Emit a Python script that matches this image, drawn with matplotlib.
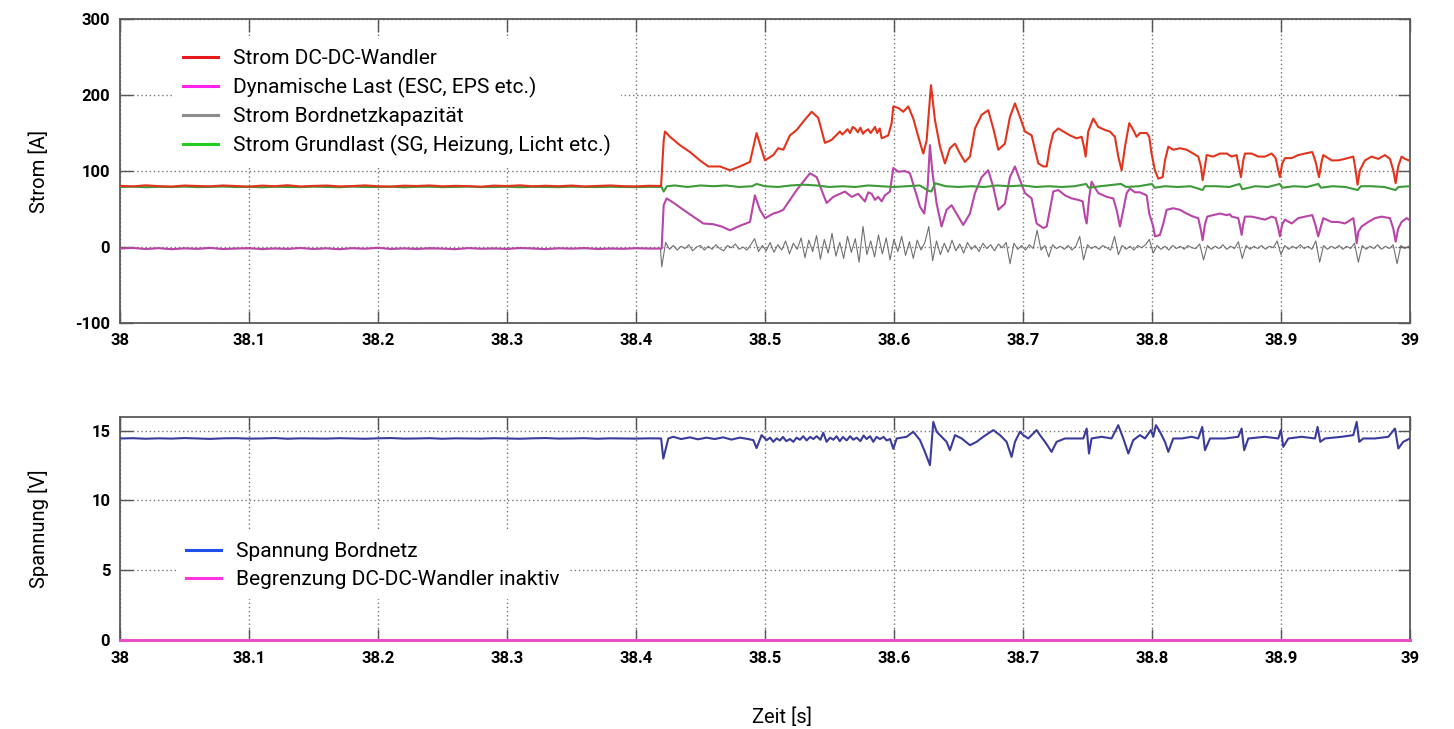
import numpy as np
import matplotlib
matplotlib.use("Agg")
import matplotlib.pyplot as plt
from matplotlib.lines import Line2D

plt.rcParams['font.family'] = ['Roboto', 'DejaVu Sans']
plt.rcParams['axes.unicode_minus'] = False

# ---------------- data ----------------
# flat part 38.00 ... 38.41 (10 ms steps) plus one sample just before the load step
flat_t = [38.00, 38.01, 38.02, 38.03, 38.04, 38.05, 38.06, 38.07, 38.08, 38.09,
          38.10, 38.11, 38.12, 38.13, 38.14, 38.15, 38.16, 38.17, 38.18, 38.19,
          38.20, 38.21, 38.22, 38.23, 38.24, 38.25, 38.26, 38.27, 38.28, 38.29,
          38.30, 38.31, 38.32, 38.33, 38.34, 38.35, 38.36, 38.37, 38.38, 38.39,
          38.40, 38.41, 38.419]
red_flat = [80.5, 79.8, 81.2, 80.1, 79.6, 80.9, 80.3, 79.9, 81.0, 80.2,
            79.5, 80.8, 80.0, 81.3, 79.7, 80.4, 80.9, 79.8, 80.2, 81.1,
            80.0, 79.6, 80.7, 80.3, 81.0, 79.9, 80.5, 80.1, 79.4, 80.8,
            80.2, 81.2, 79.9, 80.6, 80.0, 80.9, 79.7, 80.4, 81.0, 80.1,
            79.8, 80.6, 80.3]
mag_flat = [-2.0, -1.2, -2.6, -1.5, -2.9, -1.8, -2.3, -1.1, -2.7, -2.0,
            -1.4, -2.8, -1.9, -2.4, -1.3, -2.6, -1.7, -2.9, -1.6, -2.2,
            -1.0, -2.5, -1.8, -2.7, -1.5, -2.1, -2.9, -1.4, -2.3, -1.8,
            -2.6, -1.2, -2.0, -2.8, -1.6, -2.2, -1.3, -2.7, -1.9, -2.4,
            -1.5, -2.1, -2.0]
green_flat = [79.0, 79.4, 78.7, 79.2, 78.9, 79.5, 78.8, 79.1, 79.6, 78.9,
              79.2, 78.6, 79.3, 79.0, 78.8, 79.4, 79.1, 78.7, 79.5, 79.0,
              78.9, 79.3, 78.6, 79.2, 79.4, 78.8, 79.1, 79.5, 78.9, 79.0,
              79.3, 78.7, 79.2, 79.0, 78.8, 79.4, 79.1, 78.9, 79.3, 79.0,
              78.8, 79.2, 79.1]
gray_flat = [-2.0, -1.5, -2.4, -1.8, -2.2, -1.6, -2.5, -1.9, -2.1, -1.7,
             -2.3, -1.8, -2.0, -2.4, -1.6, -2.2, -1.9, -2.5, -1.7, -2.1,
             -1.8, -2.3, -2.0, -1.6, -2.4, -1.9, -2.2, -1.7, -2.0, -2.3,
             -1.8, -2.1, -1.6, -2.4, -2.0, -1.9, -2.2, -1.7, -2.3, -1.9,
             -2.1, -1.8, -2.0]
volt_flat = [14.44, 14.46, 14.42, 14.45, 14.43, 14.47, 14.44, 14.41, 14.45, 14.46,
             14.43, 14.44, 14.47, 14.42, 14.45, 14.44, 14.43, 14.46, 14.44, 14.42,
             14.45, 14.47, 14.43, 14.44, 14.46, 14.42, 14.45, 14.44, 14.43, 14.46,
             14.44, 14.42, 14.45, 14.47, 14.43, 14.44, 14.46, 14.42, 14.45, 14.44,
             14.43, 14.45, 14.44]

# DC-DC converter current after load step
red_t = [38.4195, 38.4215, 38.4225, 38.4264, 38.4341, 38.4419, 38.4496, 38.4561, 38.4651, 38.4729,
         38.4806, 38.4884, 38.4935, 38.4974, 38.5000, 38.5065, 38.5103, 38.5142, 38.5194, 38.5246,
         38.5297, 38.5362, 38.5413, 38.5465, 38.5517, 38.5581, 38.5600, 38.5640, 38.5660, 38.5680,
         38.5698, 38.5720, 38.5740, 38.5760, 38.5775, 38.5800, 38.5820, 38.5853, 38.5870, 38.5890,
         38.5905, 38.5956, 38.5982, 38.5995, 38.6034, 38.6072, 38.6111, 38.6150, 38.6189, 38.6227,
         38.6253, 38.6287, 38.6318, 38.6357, 38.6395, 38.6434, 38.6473, 38.6512, 38.6550, 38.6589,
         38.6628, 38.6680, 38.6731, 38.6770, 38.6809, 38.6860, 38.6899, 38.6938, 38.6977, 38.7016,
         38.7067, 38.7119, 38.7158, 38.7184, 38.7209, 38.7235, 38.7274, 38.7313, 38.7364, 38.7416,
         38.7455, 38.7473, 38.7486, 38.7506, 38.7545, 38.7584, 38.7636, 38.7674, 38.7713, 38.7739,
         38.7765, 38.7791, 38.7824, 38.7855, 38.7881, 38.7907, 38.7959, 38.7979, 38.7997, 38.8023,
         38.8049, 38.8083, 38.8101, 38.8127, 38.8165, 38.8217, 38.8269, 38.8320, 38.8359, 38.8380,
         38.8393, 38.8411, 38.8424, 38.8475, 38.8527, 38.8579, 38.8618, 38.8656, 38.8674, 38.8690,
         38.8708, 38.8721, 38.8773, 38.8824, 38.8876, 38.8928, 38.8959, 38.8979, 38.8992, 38.9010,
         38.9031, 38.9083, 38.9134, 38.9186, 38.9243, 38.9269, 38.9295, 38.9315, 38.9328, 38.9393,
         38.9444, 38.9496, 38.9561, 38.9579, 38.9594, 38.9612, 38.9651, 38.9703, 38.9754, 38.9806,
         38.9845, 38.9871, 38.9889, 38.9909, 38.9935, 38.9961, 38.9992]
red_v = [81, 140, 152, 145, 134, 125, 114, 106, 106, 101,
         106, 112, 150, 128, 114, 121, 130, 128, 147, 154,
         165, 178, 170, 137, 141, 152, 148, 155, 150, 158,
         156, 151, 157, 149, 152, 155, 150, 158, 150, 156,
         143, 147, 163, 185, 183, 178, 185, 169, 145, 123,
         140, 213, 167, 132, 110, 130, 136, 123, 112, 119,
         156, 174, 180, 156, 128, 136, 171, 189, 171, 152,
         147, 110, 106, 106, 132, 150, 156, 152, 147, 143,
         145, 132, 119, 152, 169, 158, 154, 152, 145, 119,
         101, 132, 163, 154, 145, 150, 150, 145, 123, 101,
         90, 92, 114, 132, 128, 130, 128, 123, 119, 106,
         88, 106, 121, 119, 123, 123, 119, 121, 106, 92,
         114, 123, 123, 119, 119, 123, 117, 101, 92, 110,
         117, 117, 121, 123, 125, 112, 92, 112, 121, 114,
         114, 116, 119, 101, 82, 101, 114, 119, 116, 121,
         116, 101, 84, 106, 119, 116, 114]

# dynamic load current
mag_t = [38.4199, 38.4215, 38.4238, 38.4302, 38.4367, 38.4444, 38.4522, 38.4599, 38.4664, 38.4729,
         38.4806, 38.4884, 38.4922, 38.4961, 38.5000, 38.5065, 38.5103, 38.5142, 38.5194, 38.5246,
         38.5297, 38.5349, 38.5401, 38.5439, 38.5478, 38.5530, 38.5581, 38.5620, 38.5672, 38.5723,
         38.5775, 38.5801, 38.5827, 38.5853, 38.5878, 38.5905, 38.5930, 38.5969, 38.5995, 38.6034,
         38.6085, 38.6124, 38.6163, 38.6202, 38.6235, 38.6261, 38.6279, 38.6297, 38.6331, 38.6369,
         38.6408, 38.6447, 38.6499, 38.6537, 38.6589, 38.6628, 38.6680, 38.6731, 38.6770, 38.6809,
         38.6860, 38.6899, 38.6938, 38.6977, 38.7016, 38.7067, 38.7106, 38.7158, 38.7184, 38.7209,
         38.7235, 38.7274, 38.7326, 38.7377, 38.7429, 38.7463, 38.7481, 38.7494, 38.7514, 38.7532,
         38.7558, 38.7584, 38.7649, 38.7700, 38.7726, 38.7752, 38.7778, 38.7804, 38.7829, 38.7868,
         38.7907, 38.7959, 38.7979, 38.8010, 38.8023, 38.8062, 38.8088, 38.8114, 38.8165, 38.8217,
         38.8269, 38.8320, 38.8359, 38.8380, 38.8393, 38.8411, 38.8429, 38.8475, 38.8527, 38.8579,
         38.8605, 38.8618, 38.8669, 38.8682, 38.8695, 38.8708, 38.8721, 38.8773, 38.8824, 38.8876,
         38.8928, 38.8959, 38.8979, 38.8992, 38.9010, 38.9031, 38.9083, 38.9134, 38.9186, 38.9243,
         38.9269, 38.9289, 38.9315, 38.9328, 38.9393, 38.9444, 38.9496, 38.9561, 38.9574, 38.9587,
         38.9600, 38.9625, 38.9677, 38.9729, 38.9780, 38.9845, 38.9871, 38.9889, 38.9909, 38.9935,
         38.9974, 38.9992]
mag_v = [-2, 55, 64, 57, 49, 40, 31, 30, 27, 22,
         28, 33, 68, 49, 38, 44, 46, 49, 62, 75,
         86, 97, 92, 75, 58, 66, 70, 73, 66, 70,
         60, 72, 70, 62, 66, 60, 68, 73, 104, 99,
         100, 97, 75, 53, 44, 79, 134, 100, 57, 27,
         49, 55, 40, 29, 44, 71, 92, 101, 79, 49,
         57, 92, 106, 88, 71, 64, 31, 25, 27, 49,
         73, 75, 68, 64, 62, 60, 40, 31, 66, 86,
         78, 71, 66, 64, 49, 27, 49, 71, 77, 72,
         72, 68, 44, 27, 14, 16, 31, 49, 51, 49,
         44, 40, 38, 22, 9, 30, 40, 42, 44, 42,
         43, 40, 38, 28, 16, 30, 40, 40, 38, 36,
         40, 38, 25, 14, 30, 36, 31, 38, 40, 42,
         28, 14, 30, 38, 33, 33, 31, 38, 24, 5,
         20, 27, 33, 38, 40, 38, 24, 7, 24, 33,
         38, 36]

# base load current
green_t = [38.4199, 38.4215, 38.4240, 38.4300, 38.4400, 38.4500, 38.4600, 38.4700, 38.4800, 38.4900,
           38.4935, 38.5000, 38.5100, 38.5200, 38.5300, 38.5400, 38.5500, 38.5600, 38.5700, 38.5800,
           38.5900, 38.6000, 38.6100, 38.6200, 38.6270, 38.6290, 38.6320, 38.6400, 38.6500, 38.6600,
           38.6700, 38.6800, 38.6900, 38.7000, 38.7100, 38.7200, 38.7300, 38.7400, 38.7490, 38.7510,
           38.7600, 38.7760, 38.7800, 38.7900, 38.8000, 38.8020, 38.8100, 38.8200, 38.8300, 38.8393,
           38.8410, 38.8500, 38.8600, 38.8680, 38.8700, 38.8800, 38.8900, 38.8990, 38.9010, 38.9100,
           38.9200, 38.9290, 38.9310, 38.9400, 38.9500, 38.9594, 38.9620, 38.9700, 38.9800, 38.9889,
           38.9910, 39.0000]
green_v = [79, 73, 80, 81, 79, 81, 80, 81, 79, 80,
           83, 80, 79, 81, 82, 81, 79, 80, 79, 81,
           80, 79, 80, 81, 74, 73, 84, 80, 79, 80,
           79, 81, 80, 81, 79, 80, 79, 80, 83, 78,
           80, 83, 79, 80, 83, 78, 80, 79, 80, 75,
           80, 80, 79, 83, 76, 80, 79, 83, 78, 80,
           79, 83, 78, 80, 79, 75, 80, 80, 79, 75,
           79, 80]

# capacitor current, 3 ms samples from 38.420 s
gray_t0 = 38.420
gray_dt = 0.003
gray_v = [-26, 6, -3, 2, -4, 1, -2, 3, -5, 0,
          2, -4, 1, -3, 3, -2, -5, 2, -1, 4,
          -3, 0, -4, 3, 11, -6, 2, -5, 6, -7,
          3, -4, 8, -9, 5, -3, 12, -14, 9, -6,
          15, -16, 10, -8, 18, -12, 6, -15, 14, -7,
          11, -20, 27, -10, 8, -13, 16, -9, 12, -17,
          10, -6, 14, -11, 7, -15, 9, -4, 6, 27,
          -18, 8, -10, 5, -7, 9, -5, 4, -8, 6,
          -3, 2, -6, 5, -2, 3, -5, 4, -1, 6,
          -22, 5, -3, 2, -4, 3, -2, 22, -4, 2,
          -13, 3, -2, 1, -3, 2, -4, 1, 14, -17,
          3, -2, 1, -3, 2, -1, -4, 14, -10, 2,
          -3, 1, -4, 2, -1, 3, 10, -8, 2, -3,
          1, -4, 2, -2, 1, -3, 2, -1, -2, 4,
          -17, 2, -3, 1, -2, 3, -3, 1, -2, 7,
          -15, 2, -3, 1, -2, 2, -3, 1, -1, 8,
          -10, 2, -3, 1, -2, 3, -2, 1, -3, 8,
          -20, 2, -3, 1, -2, 2, -3, 1, -2, 5,
          -20, 2, -3, 1, -2, 3, -3, 1, -2, 3,
          -22, 2, -2, 1]

# on-board voltage after load step
volt_t = [38.4195, 38.4212, 38.4251, 38.4289, 38.4350, 38.4419, 38.4480, 38.4548, 38.4610, 38.4677,
          38.4740, 38.4806, 38.4870, 38.4910, 38.4935, 38.4974, 38.5013, 38.5040, 38.5065, 38.5090,
          38.5116, 38.5140, 38.5165, 38.5194, 38.5220, 38.5245, 38.5271, 38.5297, 38.5323, 38.5350,
          38.5375, 38.5401, 38.5430, 38.5452, 38.5478, 38.5505, 38.5530, 38.5555, 38.5580, 38.5605,
          38.5633, 38.5660, 38.5685, 38.5711, 38.5740, 38.5765, 38.5788, 38.5815, 38.5840, 38.5865,
          38.5891, 38.5920, 38.5943, 38.5970, 38.5995, 38.6021, 38.6098, 38.6150, 38.6202, 38.6240,
          38.6279, 38.6305, 38.6331, 38.6357, 38.6408, 38.6434, 38.6473, 38.6525, 38.6589, 38.6641,
          38.6692, 38.6770, 38.6822, 38.6873, 38.6912, 38.6938, 38.6977, 38.7003, 38.7041, 38.7067,
          38.7106, 38.7132, 38.7171, 38.7222, 38.7261, 38.7326, 38.7403, 38.7468, 38.7494, 38.7512,
          38.7532, 38.7610, 38.7687, 38.7739, 38.7778, 38.7817, 38.7855, 38.7907, 38.7946, 38.7992,
          38.8010, 38.8031, 38.8062, 38.8101, 38.8127, 38.8165, 38.8230, 38.8308, 38.8359, 38.8390,
          38.8411, 38.8450, 38.8566, 38.8669, 38.8695, 38.8715, 38.8747, 38.8876, 38.8979, 38.9000,
          38.9018, 38.9057, 38.9160, 38.9264, 38.9284, 38.9305, 38.9341, 38.9470, 38.9561, 38.9587,
          38.9607, 38.9638, 38.9729, 38.9832, 38.9884, 38.9910, 38.9948, 39.0000]
volt_v = [14.44, 13.00, 14.44, 14.56, 14.40, 14.52, 14.38, 14.50, 14.40, 14.52,
          14.36, 14.50, 14.40, 14.32, 13.75, 14.68, 14.32, 14.50, 14.20, 14.45,
          14.30, 14.55, 14.25, 14.40, 14.20, 14.50, 14.35, 14.60, 14.30, 14.55,
          14.40, 14.60, 14.35, 14.85, 14.20, 14.50, 14.35, 14.60, 14.25, 14.55,
          14.30, 14.60, 14.35, 14.50, 14.25, 14.65, 14.40, 14.60, 14.20, 14.55,
          14.40, 14.55, 14.30, 14.40, 13.70, 14.44, 14.56, 14.92, 14.32, 13.48,
          12.53, 15.63, 14.92, 14.68, 14.20, 13.60, 14.68, 14.44, 13.96, 14.20,
          14.56, 15.04, 14.68, 14.20, 13.12, 14.20, 14.92, 14.68, 14.44, 14.68,
          15.04, 14.68, 14.20, 13.48, 14.20, 14.44, 14.44, 14.44, 15.15, 13.36,
          14.44, 14.56, 14.44, 15.39, 14.44, 13.36, 14.32, 14.68, 14.44, 15.04,
          14.56, 15.39, 14.92, 14.20, 13.48, 14.44, 14.44, 14.56, 14.44, 15.27,
          13.60, 14.44, 14.44, 14.56, 15.15, 13.60, 14.44, 14.56, 14.44, 15.04,
          13.84, 14.44, 14.56, 14.44, 15.27, 14.20, 14.44, 14.56, 14.68, 15.63,
          14.20, 14.44, 14.44, 14.56, 15.15, 13.72, 14.20, 14.44]

# DC-DC limitation flag (inactive)
limit_t = [38.0, 39.0]
limit_v = [0.0, 0.0]

x_ticks = [38.0, 38.1, 38.2, 38.3, 38.4, 38.5, 38.6, 38.7, 38.8, 38.9, 39.0]
x_labels = ['38', '38.1', '38.2', '38.3', '38.4', '38.5', '38.6', '38.7', '38.8', '38.9', '39']
y1_ticks = [-100, 0, 100, 200, 300]
y1_labels = ['-100', '0', '100', '200', '300']
y2_ticks = [0, 5, 10, 15]
y2_labels = ['0', '5', '10', '15']

legend1_labels = ['Strom DC-DC-Wandler', 'Dynamische Last (ESC, EPS etc.)',
                  'Strom Bordnetzkapazität', 'Strom Grundlast (SG, Heizung, Licht etc.)']
legend2_labels = ['Spannung Bordnetz', 'Begrenzung DC-DC-Wandler inaktiv']

# ---------------- assemble ----------------
red_T = np.concatenate([flat_t, red_t])
red_Y = np.concatenate([red_flat, red_v])
mag_T = np.concatenate([flat_t, mag_t])
mag_Y = np.concatenate([mag_flat, mag_v])
green_T = np.concatenate([flat_t, green_t])
green_Y = np.concatenate([green_flat, green_v])
gray_T = np.concatenate([flat_t, gray_t0 + gray_dt * np.arange(len(gray_v))])
gray_Y = np.concatenate([gray_flat, gray_v])
volt_T = np.concatenate([flat_t, volt_t])
volt_Y = np.concatenate([volt_flat, volt_v])

C_RED, C_MAG, C_GRAY, C_GREEN = '#e2341d', '#b845a8', '#707070', '#3e9a3a'
C_VOLT, C_LIM = '#3b3b9c', '#e84fc8'
L_RED, L_MAG, L_GRAY, L_GREEN = '#e8191a', '#ff22ee', '#8c8c8c', '#22cc22'
L_BLUE, L_LIM = '#1f4fe8', '#ff33dd'

fig = plt.figure(figsize=(14.54, 7.29), dpi=100)
ax1 = fig.add_axes([0.0825, 0.5569, 0.8872, 0.4170])
ax2 = fig.add_axes([0.0825, 0.1207, 0.8872, 0.3077])

grid_kw = dict(linestyle=(0, (1, 2.0)), color='#777777', linewidth=1.0)
tick_font = dict(fontsize=12, fontweight='bold')

for ax in (ax1, ax2):
    ax.set_xlim(38, 39)
    ax.set_xticks(x_ticks)
    ax.set_xticklabels(x_labels, **tick_font)
    ax.grid(True, **grid_kw)
    ax.set_axisbelow(True)
    ax.tick_params(direction='in', length=9, width=1.0, color='#555555',
                   top=True, right=True, pad=7)
    for s in ax.spines.values():
        s.set_color('#5a5a5a')
        s.set_linewidth(1.3)

ax1.plot(gray_T, gray_Y, color=C_GRAY, lw=0.8, zorder=2)
ax1.plot(mag_T, mag_Y, color=C_MAG, lw=1.5, zorder=3)
ax1.plot(green_T, green_Y, color=C_GREEN, lw=1.5, zorder=4)
ax1.plot(red_T, red_Y, color=C_RED, lw=1.5, zorder=5)
ax1.set_ylim(-100, 300)
ax1.set_yticks(y1_ticks)
ax1.set_yticklabels(y1_labels, **tick_font)
ax1.set_ylabel('Strom [A]', fontsize=14.5)
ax1.yaxis.set_label_coords(-0.055, 0.5)

leg_kw = dict(loc='upper left', fontsize=15, frameon=True, framealpha=1.0,
              edgecolor='none', facecolor='white', handlelength=1.7,
              handletextpad=0.7, labelspacing=0.43, borderpad=0.5, fancybox=False)

h1 = [Line2D([], [], color=c, lw=2.2) for c in (L_RED, L_MAG, L_GRAY, L_GREEN)]
leg1 = ax1.legend(h1, legend1_labels, bbox_to_anchor=(0.0326, 0.970), **leg_kw)
leg1.set_zorder(1.5)

ax2.plot(volt_T, volt_Y, color=C_VOLT, lw=1.5, zorder=4)
ax2.plot(limit_t, limit_v, color=C_LIM, lw=2.2, zorder=5, clip_on=False)
ax2.set_ylim(-0.07, 16)
ax2.set_yticks(y2_ticks)
ax2.set_yticklabels(y2_labels, **tick_font)
ax2.set_ylabel('Spannung [V]', fontsize=14.5)
ax2.yaxis.set_label_coords(-0.055, 0.5)

h2 = [Line2D([], [], color=c, lw=2.2) for c in (L_BLUE, L_LIM)]
leg2 = ax2.legend(h2, legend2_labels, bbox_to_anchor=(0.035, 0.535), **leg_kw)
leg2.set_zorder(1.5)

fig.text(0.538, 0.0165, 'Zeit [s]', ha='center', va='center', fontsize=14.5)

fig.savefig('out.png', dpi=100, facecolor='white')
